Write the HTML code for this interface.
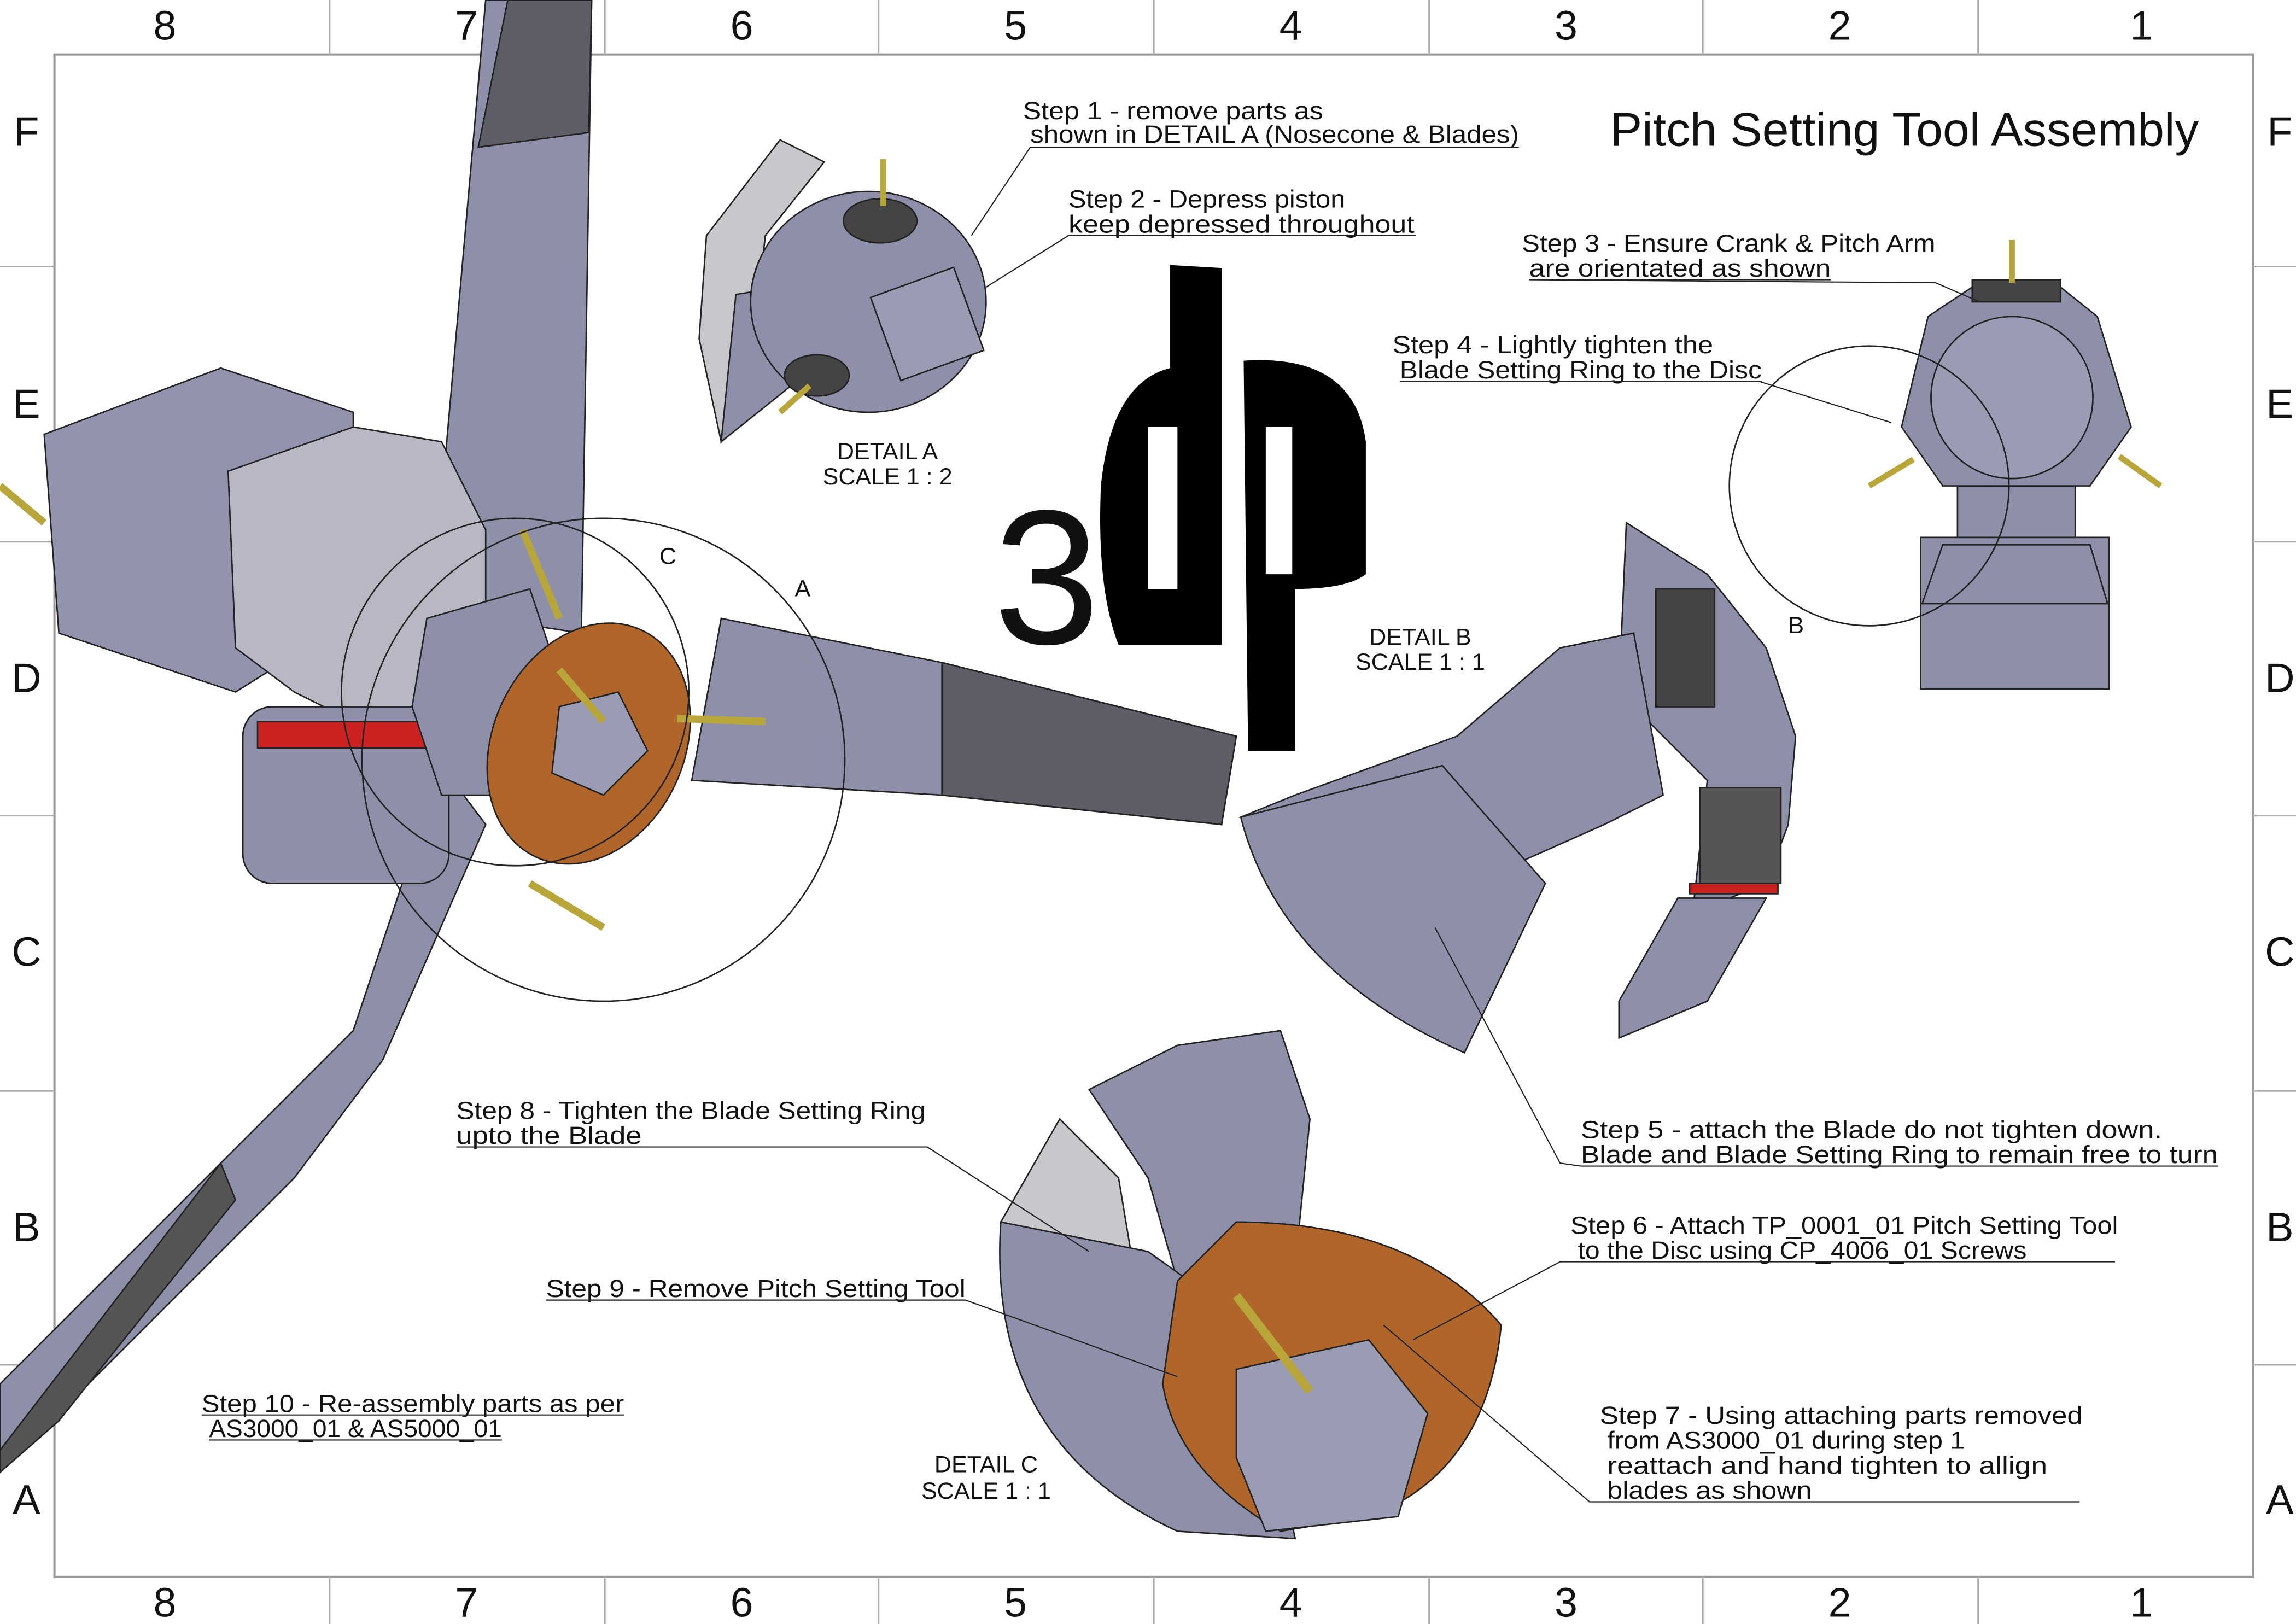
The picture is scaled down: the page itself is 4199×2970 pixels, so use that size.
<!DOCTYPE html>
<html><head><meta charset="utf-8"><style>
html,body{margin:0;padding:0;background:#fff;}
svg{display:block;}
text{font-family:"Liberation Sans",sans-serif;fill:#111;}
</style></head><body>
<svg width="4199" height="2970" viewBox="0 0 1560 1103" preserveAspectRatio="none" xmlns="http://www.w3.org/2000/svg">
<rect width="1560" height="1103" fill="#fff"/>
<rect x="37" y="37" width="1494" height="1034" fill="none" stroke="#999" stroke-width="1.5"/>
<g stroke="#aaa" stroke-width="1">
<line x1="224" y1="0" x2="224" y2="37"/><line x1="411" y1="0" x2="411" y2="37"/><line x1="597" y1="0" x2="597" y2="37"/><line x1="784" y1="0" x2="784" y2="37"/><line x1="971" y1="0" x2="971" y2="37"/><line x1="1157" y1="0" x2="1157" y2="37"/><line x1="1344" y1="0" x2="1344" y2="37"/>
<line x1="224" y1="1071" x2="224" y2="1103"/><line x1="411" y1="1071" x2="411" y2="1103"/><line x1="597" y1="1071" x2="597" y2="1103"/><line x1="784" y1="1071" x2="784" y2="1103"/><line x1="971" y1="1071" x2="971" y2="1103"/><line x1="1157" y1="1071" x2="1157" y2="1103"/><line x1="1344" y1="1071" x2="1344" y2="1103"/>
<line x1="0" y1="181" x2="37" y2="181"/><line x1="0" y1="368" x2="37" y2="368"/><line x1="0" y1="554" x2="37" y2="554"/><line x1="0" y1="741" x2="37" y2="741"/><line x1="0" y1="927" x2="37" y2="927"/>
<line x1="1531" y1="181" x2="1560" y2="181"/><line x1="1531" y1="368" x2="1560" y2="368"/><line x1="1531" y1="554" x2="1560" y2="554"/><line x1="1531" y1="741" x2="1560" y2="741"/><line x1="1531" y1="927" x2="1560" y2="927"/>
</g>
<g font-size="28" text-anchor="middle">
<text x="112" y="27">8</text><text x="317" y="27">7</text><text x="504" y="27">6</text><text x="690" y="27">5</text><text x="877" y="27">4</text><text x="1064" y="27">3</text><text x="1250" y="27">2</text><text x="1455" y="27">1</text>
<text x="112" y="1098">8</text><text x="317" y="1098">7</text><text x="504" y="1098">6</text><text x="690" y="1098">5</text><text x="877" y="1098">4</text><text x="1064" y="1098">3</text><text x="1250" y="1098">2</text><text x="1455" y="1098">1</text>
<text x="18" y="99">F</text><text x="18" y="284">E</text><text x="18" y="470">D</text><text x="18" y="656">C</text><text x="18" y="843">B</text><text x="18" y="1028">A</text>
<text x="1549" y="99">F</text><text x="1549" y="284">E</text><text x="1549" y="470">D</text><text x="1549" y="656">C</text><text x="1549" y="843">B</text><text x="1549" y="1028">A</text>
</g>

<g stroke="#222" stroke-width="1">
<polygon points="330,0 402,0 395,430 330,420 300,340" fill="#8e90aa"/>
<polygon points="345,0 402,0 400,90 325,100" fill="#5e5e66"/>
<polygon points="490,420 640,450 840,500 830,560 640,540 470,530" fill="#8e90aa"/>
<polygon points="640,450 840,500 830,560 640,540" fill="#5e5e66"/>
<polygon points="300,520 330,560 260,720 200,800 120,880 30,970 0,1000 0,940 90,850 170,770 240,700" fill="#8e90aa"/>
<polygon points="150,790 0,985 0,1000 40,965 160,815" fill="#555"/>
<polygon points="30,295 150,250 240,280 240,420 160,470 40,430" fill="#9294ad"/>
<polygon points="155,320 240,290 300,300 330,360 330,470 260,500 200,470 160,440" fill="#b8b8c4"/>
<rect x="165" y="480" width="140" height="120" rx="20" fill="#8e90aa"/>
<rect x="175" y="490" width="130" height="18" fill="#c22"/>
<polygon points="290,420 360,400 380,460 360,540 300,540 280,480" fill="#8e90aa"/>
<ellipse cx="400" cy="505" rx="65" ry="85" fill="#b0662a" transform="rotate(25 400 505)"/>
<polygon points="380,480 420,470 440,510 410,540 375,525" fill="#9a9cb4"/>
<line x1="0" y1="330" x2="30" y2="355" stroke="#b9a63a" stroke-width="5"/>
<line x1="380" y1="455" x2="410" y2="490" stroke="#b9a63a" stroke-width="5"/>
<line x1="460" y1="488" x2="520" y2="490" stroke="#b9a63a" stroke-width="5"/>
<line x1="360" y1="600" x2="410" y2="630" stroke="#b9a63a" stroke-width="5"/>
<line x1="355" y1="360" x2="380" y2="420" stroke="#b9a63a" stroke-width="5"/>
</g>
<g fill="none" stroke="#222" stroke-width="1">
<circle cx="410" cy="516" r="164"/>
<circle cx="350" cy="470" r="118"/>
</g>
<text x="448" y="383" font-size="16">C</text>
<text x="540" y="405" font-size="16">A</text>

<g stroke="#222" stroke-width="1">
<polygon points="530,95 560,110 520,160 510,250 490,300 475,230 480,160" fill="#c8c8cc"/>
<polygon points="500,200 560,190 540,260 490,300" fill="#8e90aa"/>
<ellipse cx="590" cy="205" rx="80" ry="75" fill="#8e90aa"/>
<rect x="600" y="190" width="60" height="60" fill="#9a9cb4" transform="rotate(-20 630 220)"/>
<ellipse cx="598" cy="150" rx="25" ry="15" fill="#444"/>
<ellipse cx="555" cy="255" rx="22" ry="14" fill="#444"/>
<line x1="600" y1="108" x2="600" y2="140" stroke="#b9a63a" stroke-width="4"/>
<line x1="530" y1="280" x2="550" y2="262" stroke="#b9a63a" stroke-width="4"/>
</g>
<text x="603" y="312" font-size="16" text-anchor="middle">DETAIL A</text>
<text x="603" y="329" font-size="16" text-anchor="middle">SCALE 1 : 2</text>

<text x="675" y="437" font-size="130" fill="#000">3</text>
<path d="M795,180 L830,182 L830,438 L760,438 Q745,400 748,330 Q755,260 795,250 Z" fill="#000"/>
<path d="M845,245 Q920,240 928,300 L928,390 Q915,400 880,400 L880,510 L848,510 Z" fill="#000"/>
<rect x="780" y="290" width="20" height="110" fill="#fff"/>
<rect x="860" y="290" width="18" height="100" fill="#fff"/>

<g stroke="#222" stroke-width="1">
<polygon points="1105,355 1160,390 1200,440 1220,500 1215,560 1200,600 1150,620 1160,530 1100,470" fill="#8e90aa"/>
<polygon points="1060,440 1110,430 1130,540 1090,560 1000,600 940,620 880,560 843,555 880,540 990,500" fill="#8e90aa"/>
<path d="M843,555 Q870,660 995,715 L1050,600 L980,520 Z" fill="#8e90aa"/>
<polygon points="1155,535 1210,535 1210,600 1155,600" fill="#555"/>
<rect x="1148" y="600" width="60" height="7" fill="#c22"/>
<polygon points="1140,610 1200,610 1160,680 1100,705 1100,680" fill="#8e90aa"/>
<rect x="1125" y="400" width="40" height="80" fill="#444"/>
</g>
<text x="1215" y="430" font-size="16">B</text>
<text x="965" y="438" font-size="16" text-anchor="middle">DETAIL B</text>
<text x="965" y="455" font-size="16" text-anchor="middle">SCALE 1 : 1</text>

<g stroke="#222" stroke-width="1">
<rect x="1305" y="365" width="128" height="103" fill="#8e90aa"/>
<polygon points="1320,370 1420,370 1432,410 1306,410" fill="#8e90aa"/>
<rect x="1330" y="330" width="80" height="35" fill="#8e90aa"/>
<polygon points="1340,195 1400,195 1425,215 1448,290 1420,330 1320,330 1292,290 1310,215" fill="#8e90aa"/>
<circle cx="1367" cy="270" r="55" fill="#9a9cb4"/>
<rect x="1340" y="190" width="60" height="15" fill="#444"/>
<line x1="1367" y1="163" x2="1367" y2="192" stroke="#b9a63a" stroke-width="4"/>
<line x1="1270" y1="330" x2="1300" y2="312" stroke="#b9a63a" stroke-width="4"/>
<line x1="1440" y1="310" x2="1468" y2="330" stroke="#b9a63a" stroke-width="4"/>
</g>
<circle cx="1270" cy="330" r="95" fill="none" stroke="#222"/>

<g stroke="#222" stroke-width="1">
<polygon points="740,740 800,710 870,700 890,760 880,860 800,870 780,800" fill="#8e90aa"/>
<polygon points="680,830 720,760 760,800 770,860 700,880" fill="#c8c8cc"/>
<path d="M680,830 Q670,980 800,1040 L880,1045 L850,900 L780,850 Z" fill="#8e90aa"/>
<path d="M800,870 L840,830 Q960,830 1020,900 Q1010,1000 930,1030 L870,1040 Q800,1000 790,940 Z" fill="#b0662a"/>
<polygon points="840,930 930,910 970,960 950,1030 860,1040 840,990" fill="#9a9cb4"/>
<line x1="840" y1="880" x2="890" y2="945" stroke="#b9a63a" stroke-width="6"/>
</g>
<text x="670" y="1000" font-size="16" text-anchor="middle">DETAIL C</text>
<text x="670" y="1018" font-size="16" text-anchor="middle">SCALE 1 : 1</text>

<text x="1094" y="99" font-size="32" textLength="400" lengthAdjust="spacingAndGlyphs">Pitch Setting Tool Assembly</text>

<g font-size="17" lengthAdjust="spacingAndGlyphs">
<text x="695" y="81" textLength="204" lengthAdjust="spacingAndGlyphs">Step 1 - remove parts as</text>
<text x="700" y="97" textLength="332" lengthAdjust="spacingAndGlyphs">shown in DETAIL A (Nosecone &amp; Blades)</text>
<text x="726" y="141" textLength="188" lengthAdjust="spacingAndGlyphs">Step 2 - Depress piston</text>
<text x="726" y="158" textLength="235" lengthAdjust="spacingAndGlyphs">keep depressed throughout</text>
<text x="1034" y="171" textLength="281" lengthAdjust="spacingAndGlyphs">Step 3 - Ensure Crank &amp; Pitch Arm</text>
<text x="1039" y="188" textLength="205" lengthAdjust="spacingAndGlyphs">are orientated as shown</text>
<text x="946" y="240" textLength="218" lengthAdjust="spacingAndGlyphs">Step 4 - Lightly tighten the</text>
<text x="951" y="257" textLength="246" lengthAdjust="spacingAndGlyphs">Blade Setting Ring to the Disc</text>
<text x="1074" y="773" textLength="395" lengthAdjust="spacingAndGlyphs">Step 5 - attach the Blade do not tighten down.</text>
<text x="1074" y="790" textLength="433" lengthAdjust="spacingAndGlyphs">Blade and Blade  Setting Ring to remain free to turn</text>
<text x="1067" y="838" textLength="372" lengthAdjust="spacingAndGlyphs">Step 6 - Attach TP_0001_01 Pitch Setting Tool</text>
<text x="1072" y="855" textLength="305" lengthAdjust="spacingAndGlyphs">to the Disc using CP_4006_01 Screws</text>
<text x="1087" y="967" textLength="328" lengthAdjust="spacingAndGlyphs">Step 7 - Using attaching parts removed</text>
<text x="1092" y="984" textLength="243" lengthAdjust="spacingAndGlyphs">from AS3000_01 during step 1</text>
<text x="1092" y="1001" textLength="299" lengthAdjust="spacingAndGlyphs">reattach and hand tighten to allign</text>
<text x="1092" y="1018" textLength="139" lengthAdjust="spacingAndGlyphs">blades as shown</text>
<text x="310" y="760" textLength="319" lengthAdjust="spacingAndGlyphs">Step 8 - Tighten the Blade Setting Ring</text>
<text x="310" y="777" textLength="126" lengthAdjust="spacingAndGlyphs">upto the Blade</text>
<text x="371" y="881" textLength="285" lengthAdjust="spacingAndGlyphs">Step 9 - Remove Pitch Setting Tool</text>
<text x="137" y="959" textLength="287" lengthAdjust="spacingAndGlyphs">Step 10 - Re-assembly parts as per</text>
<text x="142" y="976" textLength="199" lengthAdjust="spacingAndGlyphs">AS3000_01 &amp; AS5000_01</text>
</g>
<g stroke="#222" stroke-width="0.8" fill="none">
<polyline points="1032,100 700,100 660,160"/>
<polyline points="962,160 726,160 670,195"/>
<polyline points="1244,190 1039,190 1315,192 1345,205"/>
<polyline points="1197,259 951,259 1195,259 1285,287"/>
<polyline points="1507,792 1074,792 1060,790 975,630"/>
<polyline points="1437,857 1072,857 1060,857 960,910"/>
<polyline points="1413,1020 1092,1020 1080,1020 940,900"/>
<polyline points="310,779 630,779 740,850"/>
<polyline points="371,883 656,883 800,935"/>
<line x1="137" y1="961" x2="424" y2="961"/>
<line x1="142" y1="978" x2="341" y2="978"/>
</g>
</svg>
</body></html>
